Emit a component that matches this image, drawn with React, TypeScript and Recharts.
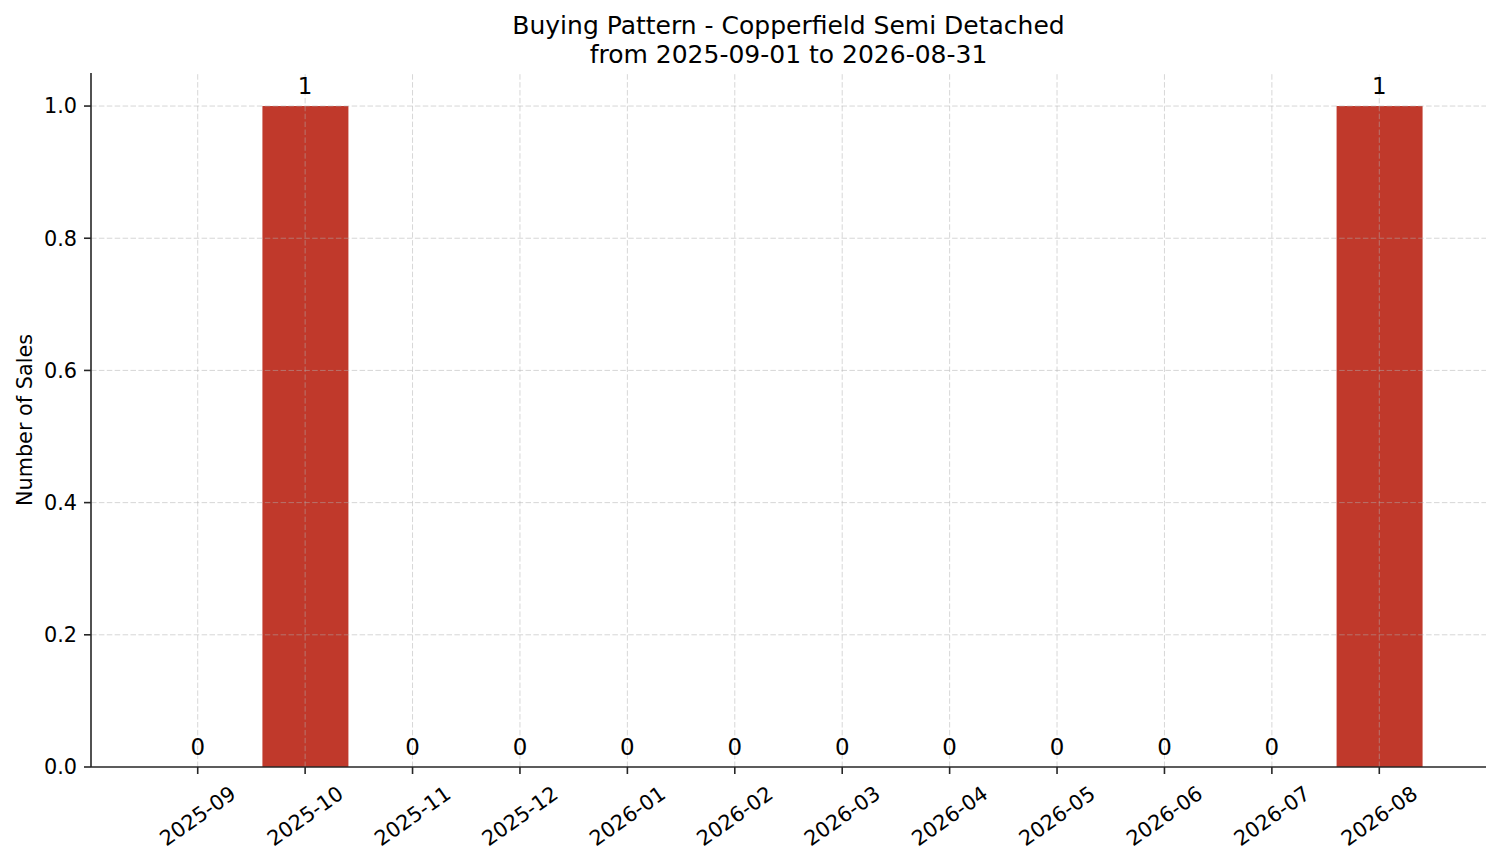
import React from 'react';
import { ComposedChart, Bar, Line, XAxis, YAxis, ReferenceLine } from 'recharts';

const months = ['2025-09', '2025-10', '2025-11', '2025-12', '2026-01', '2026-02', '2026-03', '2026-04', '2026-05', '2026-06', '2026-07', '2026-08'];
const sales = [0, 1, 0, 0, 0, 0, 0, 0, 0, 0, 0, 1];
const yTicks = [0, 0.2, 0.4, 0.6, 0.8, 1.0];
const titleLine1 = 'Buying Pattern - Copperfield Semi Detached';
const titleLine2 = 'from 2025-09-01 to 2026-08-31';
const yAxisLabel = 'Number of Sales';

const data = months.map((m, i) => ({ month: m, sales: sales[i] }));

const FONT = '"DejaVu Sans", Verdana, sans-serif';
const AXIS = '#262626';
const BAR = '#C0392B';
const GRID = { stroke: '#b0b0b0', strokeOpacity: 0.5, strokeDasharray: '5.5 2.4', strokeWidth: 1 };

const XTick = (props: any) => {
  const { x, y, payload } = props;
  const yc = y + 40;
  return (
    <text
      x={x}
      y={yc}
      dy="0.346em"
      textAnchor="middle"
      fontFamily={FONT}
      fontSize={20.8}
      fill="#000"
      transform={`rotate(-35, ${x}, ${yc})`}
    >
      {payload.value}
    </text>
  );
};

const YTick = (props: any) => {
  const { x, y, payload } = props;
  return (
    <text x={x} y={y} dy="0.355em" textAnchor="end" fontFamily={FONT} fontSize={20.8} fill="#000">
      {Number(payload.value).toFixed(1)}
    </text>
  );
};

const YLabel = (props: any) => {
  const vb = props.viewBox || {};
  const cy = (vb.y ?? 73) + (vb.height ?? 694) / 2;
  const x = 32;
  return (
    <text x={x} y={cy} textAnchor="middle" fontFamily={FONT} fontSize={20.8} fill="#000" transform={`rotate(-90, ${x}, ${cy})`}>
      {yAxisLabel}
    </text>
  );
};

const ValueLabel = (props: any) => {
  const { x, y, value } = props;
  return (
    <text x={x} y={y - 12} textAnchor="middle" fontFamily={FONT} fontSize={22.9} fill="#000">
      {String(value)}
    </text>
  );
};

export default function App() {
  return (
    <div style={{ position: 'relative', width: 1501, height: 863, background: '#fff', fontFamily: FONT }}>
      <style>{`body{margin:0;background:#fff;}`}</style>
      <div
        style={{
          position: 'absolute',
          left: 91,
          width: 1395,
          top: 11,
          textAlign: 'center',
          fontFamily: FONT,
          fontSize: 25,
          lineHeight: '29px',
          color: '#000',
          whiteSpace: 'nowrap',
        }}
      >
        <div>{titleLine1}</div>
        <div>{titleLine2}</div>
      </div>
      <ComposedChart
        width={1501}
        height={863}
        data={data}
        margin={{ top: 73, right: 15, bottom: 0, left: 0 }}
      >
        <XAxis
          dataKey="month"
          type="category"
          height={96}
          padding={{ left: 53, right: 53 }}
          tick={<XTick />}
          tickSize={7}
          tickMargin={2}
          interval={0}
          axisLine={{ stroke: AXIS, strokeWidth: 1.6 }}
          tickLine={{ stroke: AXIS, strokeWidth: 1.6 }}
        />
        <YAxis
          width={91}
          domain={[0, 1.05]}
          ticks={yTicks}
          type="number"
          allowDataOverflow
          tick={<YTick />}
          tickSize={7}
          tickMargin={7}
          axisLine={{ stroke: AXIS, strokeWidth: 1.6 }}
          tickLine={{ stroke: AXIS, strokeWidth: 1.6 }}
          label={<YLabel />}
        />
        <Bar dataKey="sales" fill={BAR} barSize={86} isAnimationActive={false} />
        {yTicks.filter((t) => t > 0).map((t) => (
          <ReferenceLine key={`h${t}`} y={t} {...GRID} />
        ))}
        {months.map((m) => (
          <ReferenceLine key={`v${m}`} x={m} {...GRID} />
        ))}
        <Line
          dataKey="sales"
          stroke="none"
          dot={false}
          activeDot={false}
          legendType="none"
          isAnimationActive={false}
          label={<ValueLabel />}
        />
      </ComposedChart>
    </div>
  );
}
